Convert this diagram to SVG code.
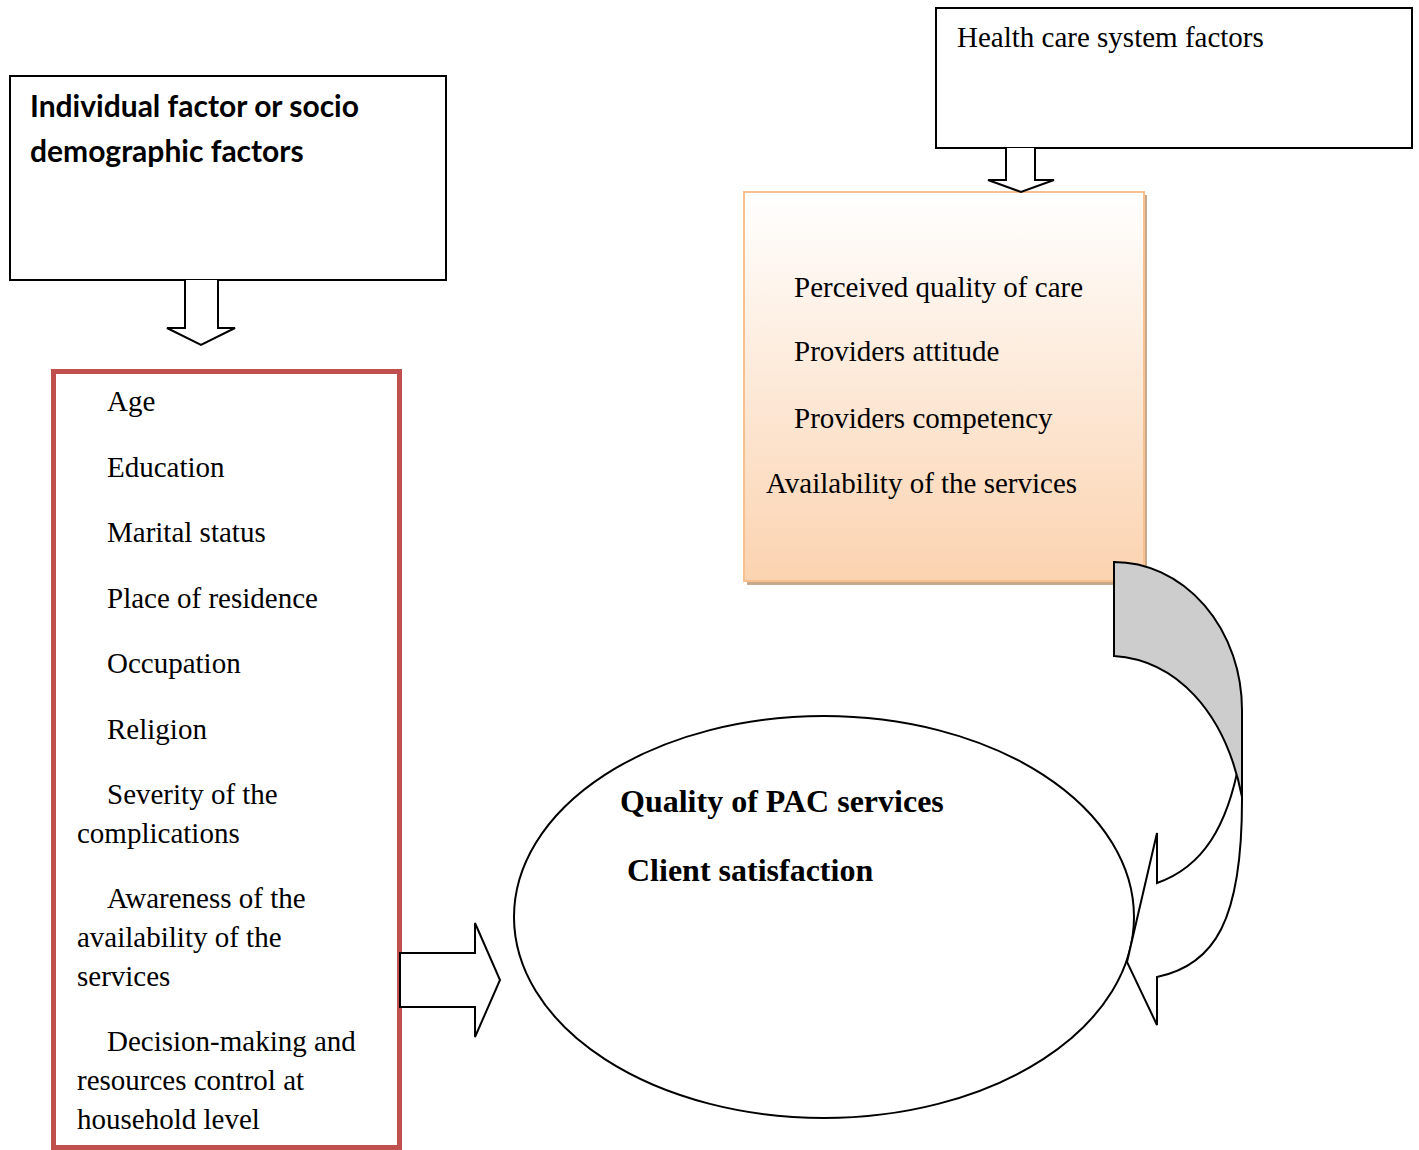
<svg xmlns="http://www.w3.org/2000/svg" width="1419" height="1150" viewBox="0 0 1419 1150">
<defs>
<linearGradient id="og" x1="0" y1="0" x2="0" y2="1">
<stop offset="0" stop-color="#ffffff"/>
<stop offset="1" stop-color="#fbd3b0"/>
</linearGradient>
<style>
.box{fill:#fff;stroke:#000;stroke-width:2}
.arr{fill:#fff;stroke:#000;stroke-width:2;stroke-linejoin:miter}
.t{font-family:"Liberation Serif","Times New Roman",serif;font-size:29px;fill:#000}
.tb{font-family:"Liberation Serif","Times New Roman",serif;font-size:32px;font-weight:bold;fill:#000}
.sb{font-family:Lato,"Liberation Sans",Arial,sans-serif;font-size:30px;font-weight:bold;fill:#000}
</style>
</defs>
<rect width="1419" height="1150" fill="#fff"/>

<g id="individual">
<rect class="box" x="10" y="76" width="436" height="204"/>
<text class="sb" x="30" y="117">Individual factor or socio</text>
<text class="sb" x="30" y="162">demographic factors</text>
</g>

<g id="healthcare">
<rect class="box" x="936" y="8" width="476" height="140"/>
<text class="t" x="957" y="47">Health care system factors</text>
</g>

<g id="individual-list">
<rect x="53.5" y="371.5" width="346" height="776" fill="#fff" stroke="#c0504d" stroke-width="5"/>
<text class="t" x="107" y="411">Age</text>
<text class="t" x="107" y="477">Education</text>
<text class="t" x="107" y="542">Marital status</text>
<text class="t" x="107" y="608">Place of residence</text>
<text class="t" x="107" y="673">Occupation</text>
<text class="t" x="107" y="739">Religion</text>
<text class="t" x="107" y="804">Severity of the</text>
<text class="t" x="77" y="843">complications</text>
<text class="t" x="107" y="908">Awareness of the</text>
<text class="t" x="77" y="947">availability of the</text>
<text class="t" x="77" y="986">services</text>
<text class="t" x="107" y="1051">Decision-making and</text>
<text class="t" x="77" y="1090">resources control at</text>
<text class="t" x="77" y="1129">household level</text>
</g>

<g id="system-list">
<rect x="747" y="195" width="400" height="390" fill="#c8a88a"/>
<rect x="744" y="192" width="400" height="389" fill="url(#og)" stroke="#f9c08f" stroke-width="2"/>
<text class="t" x="794" y="297">Perceived quality of care</text>
<text class="t" x="794" y="361">Providers attitude</text>
<text class="t" x="794" y="428">Providers competency</text>
<text class="t" x="766" y="493">Availability of the services</text>
</g>

<g id="outcome">
<ellipse cx="824" cy="917" rx="310" ry="201" fill="#fff" stroke="#000" stroke-width="2"/>
<text class="tb" x="620" y="812">Quality of PAC services</text>
<text class="tb" x="627" y="881">Client satisfaction</text>
</g>

<g id="connectors">
<path class="arr" d="M185,280 L185,328 L167,328 L201,345 L235,328 L218,328 L218,280"/>
<path class="arr" d="M1006,148 L1006,180 L988,180 L1021,192 L1054,180 L1035,180 L1035,148"/>
<path class="arr" d="M400,953 L475,953 L475,923 L500,980 L475,1037 L475,1007 L400,1007 Z"/>
<path class="arr" d="M1242,745 L1242,800 C1242,920 1215,965 1157,977 L1157,1025 L1127,962 L1157,833 L1157,883 C1200,868 1230,830 1242,745 Z"/>
<path fill="#cdcdcd" stroke="#000" stroke-width="2" d="M1114,562 A128,148 0 0 1 1242,710 L1242,797 C1225,710 1175,660 1114,656 Z"/>
</g>
</svg>
